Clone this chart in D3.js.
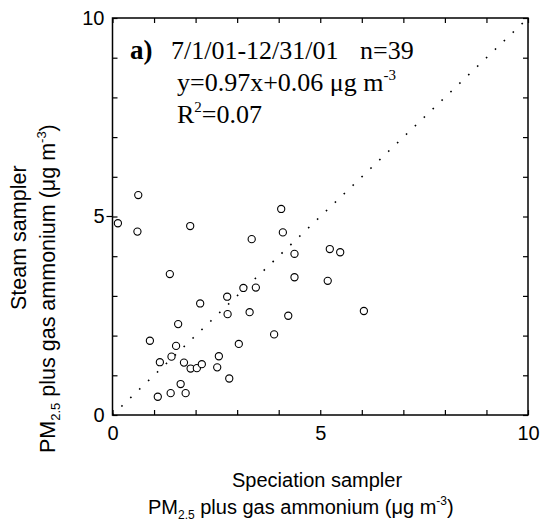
<!DOCTYPE html>
<html lang="en">
<head>
    <meta charset="UTF-8">
    <title>Steam vs Speciation sampler</title>
    <script src="https://d3js.org/d3.v7.min.js"></script>
    <style>
        body { margin: 0; background: #fff; }
        svg { display: block; }
        .tick text { font-family: "Liberation Sans", Arial, sans-serif; font-size: 20px; fill: #000; }
        .axlab { font-family: "Liberation Sans", Arial, sans-serif; fill: #000; }
        .note { font-family: "Liberation Serif", "Times New Roman", serif; fill: #000; }
    </style>
</head>
<body>
    <svg id="chart"></svg>

    <script>
        // speciation sampler (x) and steam sampler (y), ug/m3, one entry per sample day
        const speciation = [0.62, 0.13, 0.60, 1.87, 1.38,
            4.06, 3.35, 4.10, 5.23, 5.48, 4.38, 4.38, 5.18, 3.15, 3.45, 2.76, 2.77, 3.30, 4.23,
            2.11, 1.58, 0.90, 1.53, 1.14, 1.42, 1.72, 1.88, 2.03, 2.15, 2.56, 2.52, 2.81, 1.64,
            1.09, 1.40, 1.76, 3.89, 3.04, 6.05];
        const steam = [5.54, 4.83, 4.62, 4.76, 3.55,
            5.19, 4.43, 4.60, 4.18, 4.10, 4.06, 3.47, 3.38, 3.20, 3.21, 2.98, 2.54, 2.59, 2.50,
            2.81, 2.29, 1.87, 1.74, 1.33, 1.47, 1.32, 1.17, 1.18, 1.28, 1.48, 1.20, 0.92, 0.78,
            0.46, 0.55, 0.55, 2.03, 1.79, 2.62];

        const tickValues = [0, 1, 2, 3, 4, 5, 6, 7, 8, 9, 10];
        const labelValues = [0, 5, 10];
        const oneToOne = [0, 10];

        const width = 540, height = 525;
        const svg = d3.select('#chart').attr('width', width).attr('height', height);

        const x = d3.scaleLinear().domain([0, 10]).range([112.5, 528]);
        const y = d3.scaleLinear().domain([0, 10]).range([415, 18]);

        const fmt = d => labelValues.includes(d) ? d : '';

        // bottom axis with labels, ticks point inward
        svg.append('g')
            .attr('transform', `translate(0,${y(0)})`)
            .call(d3.axisBottom(x).tickValues(tickValues).tickSizeInner(-5).tickSizeOuter(0)
                .tickPadding(11).tickFormat(fmt));

        svg.append('g')
            .attr('transform', `translate(${x(0)},0)`)
            .call(d3.axisLeft(y).tickValues(tickValues).tickSizeInner(-5).tickSizeOuter(0)
                .tickPadding(8).tickFormat(fmt));

        // top and right: ticks only
        svg.append('g')
            .attr('transform', `translate(0,${y(10)})`)
            .call(d3.axisTop(x).tickValues(tickValues).tickSizeInner(-5).tickSizeOuter(0).tickFormat(''));

        svg.append('g')
            .attr('transform', `translate(${x(10)},0)`)
            .call(d3.axisRight(y).tickValues(tickValues).tickSizeInner(-5).tickSizeOuter(0).tickFormat(''));

        svg.selectAll('.domain').remove();
        svg.selectAll('.tick line').attr('stroke', '#000').attr('stroke-width', 1.2);

        // small outward tick at 5 on left
        svg.append('line')
            .attr('x1', x(0) - 6).attr('x2', x(0))
            .attr('y1', y(5)).attr('y2', y(5))
            .attr('stroke', '#000').attr('stroke-width', 1.2);

        // frame
        svg.append('rect')
            .attr('x', x(0)).attr('y', y(10))
            .attr('width', x(10) - x(0)).attr('height', y(0) - y(10))
            .attr('fill', 'none').attr('stroke', '#000').attr('stroke-width', 1.5);

        // 1:1 dotted line
        svg.append('line')
            .attr('x1', x(oneToOne[0])).attr('y1', y(oneToOne[0]))
            .attr('x2', x(oneToOne[1])).attr('y2', y(oneToOne[1]))
            .attr('stroke', '#000').attr('stroke-width', 1.6)
            .attr('stroke-dasharray', '1.6 10.7');

        // points
        svg.selectAll('circle.pt')
            .data(speciation.map((v, i) => ({ sx: v, sy: steam[i] })))
            .enter().append('circle')
            .attr('class', 'pt')
            .attr('cx', d => x(d.sx))
            .attr('cy', d => y(d.sy))
            .attr('r', 3.6)
            .attr('fill', '#fff')
            .attr('stroke', '#000')
            .attr('stroke-width', 1.1);

        // annotation
        svg.append('text').attr('class', 'note')
            .attr('x', 130).attr('y', 59)
            .style('font-size', '27px').style('font-weight', 'bold')
            .text('a)');
        svg.append('text').attr('class', 'note')
            .attr('x', 171).attr('y', 59).style('font-size', '26px')
            .text('7/1/01-12/31/01');
        svg.append('text').attr('class', 'note')
            .attr('x', 360).attr('y', 59).style('font-size', '26px')
            .text('n=39');

        const eq = svg.append('text').attr('class', 'note')
            .attr('x', 177).attr('y', 91).style('font-size', '26px');
        eq.append('tspan').text('y=0.97x+0.06 \u03bcg m');
        eq.append('tspan').attr('dy', -11).style('font-size', '15px').text('-3');

        const r2 = svg.append('text').attr('class', 'note')
            .attr('x', 177).attr('y', 123).style('font-size', '26px');
        r2.append('tspan').text('R');
        r2.append('tspan').attr('dy', -11).style('font-size', '15px').text('2');
        r2.append('tspan').attr('dy', 11).text('=0.07');

        // x axis title
        svg.append('text').attr('class', 'axlab')
            .attr('x', 232).attr('y', 487).style('font-size', '20px')
            .text('Speciation sampler');

        function pmLabel(sel, size) {
            const sub = Math.round(size * 0.62);
            sel.append('tspan').text('PM');
            sel.append('tspan').attr('dy', 5).style('font-size', sub + 'px').text('2.5');
            sel.append('tspan').attr('dy', -5).text(' plus gas ammonium (\u03bcg m');
            sel.append('tspan').attr('dy', -9).style('font-size', sub + 'px').text('-3');
            sel.append('tspan').attr('dy', 9).text(')');
        }

        const xl = svg.append('text').attr('class', 'axlab')
            .attr('x', 148).attr('y', 514).style('font-size', '20px');
        pmLabel(xl, 20);

        // y axis title
        svg.append('text').attr('class', 'axlab')
            .attr('transform', 'translate(26,310) rotate(-90)')
            .style('font-size', '21.5px')
            .text('Steam sampler');

        const yl = svg.append('text').attr('class', 'axlab')
            .attr('transform', 'translate(55,453) rotate(-90)')
            .style('font-size', '21.5px');
        pmLabel(yl, 21.5);
    </script>
</body>
</html>
